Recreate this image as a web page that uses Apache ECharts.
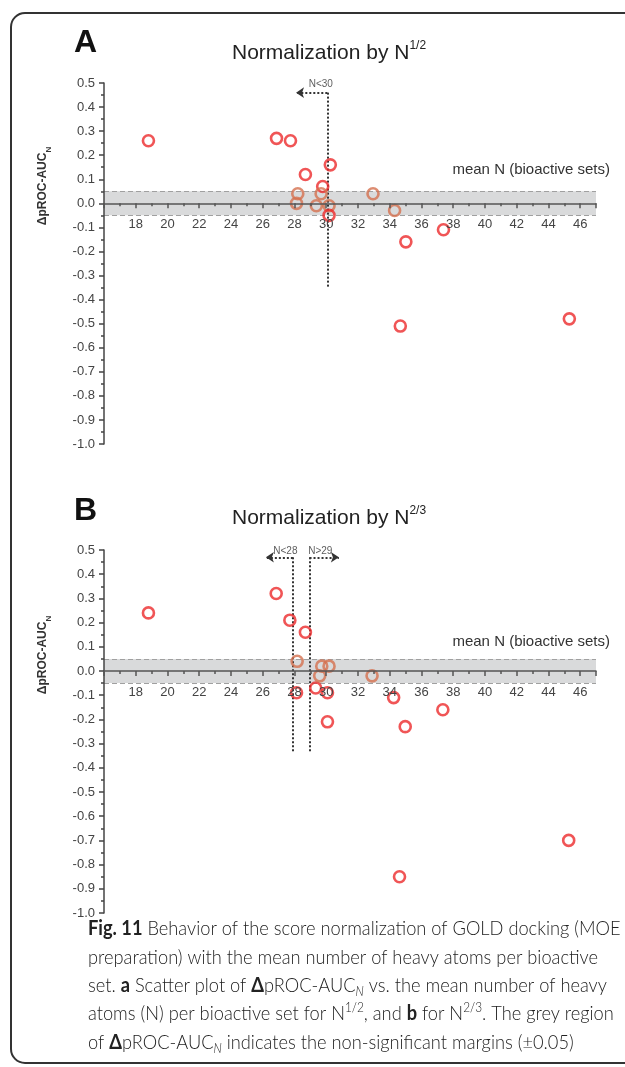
<!DOCTYPE html>
<html>
<head>
<meta charset="utf-8">
<script src="https://cdn.jsdelivr.net/npm/echarts@6/dist/echarts.min.js"></script>
<style>
html,body{margin:0;padding:0;background:#fff;}
#chart{width:625px;height:1067px;}
</style>
</head>
<body>
<div id="chart"></div>
<script>
// ---- data ----
const xA = [18.8, 26.87, 27.75, 28.69, 30.26, 29.78, 28.21, 28.13, 29.38, 29.68, 30.18, 30.18, 32.95, 34.31, 35.02, 37.39, 34.67, 45.32];
const yA = [0.26, 0.27, 0.26, 0.12, 0.16, 0.07, 0.04, 0.00, -0.01, 0.04, -0.01, -0.05, 0.04, -0.03, -0.16, -0.11, -0.51, -0.48];
const xB = [18.8, 26.85, 27.71, 28.69, 28.17, 28.13, 29.34, 29.72, 29.59, 30.18, 30.08, 30.08, 32.89, 34.25, 34.98, 37.35, 34.62, 45.28];
const yB = [0.24, 0.32, 0.21, 0.16, 0.04, -0.09, -0.07, 0.02, -0.02, 0.02, -0.09, -0.21, -0.02, -0.11, -0.23, -0.16, -0.85, -0.70];
const margin = 0.05;
const yMin = -1, yMax = 0.5, xMin = 16, xMax = 47;
// threshold lines: [x, yTop, yBottom, arrowEndX]
const cutA = [[30.07, 0.46, -0.35, 28.1]];
const cutB = [[27.9, 0.47, -0.335, 26.2], [28.95, 0.47, -0.335, 30.8]];
// threshold labels: [x, y, text]
const cutLabelsA = [[29.66, 0.495, 'N<30']];
const cutLabelsB = [[27.43, 0.495, 'N<28'], [29.63, 0.495, 'N>29']];
const titles = ['Normalization by N', 'Normalization by N'];
const titleSup = ['1/2', '2/3'];
const panelLetters = ['A', 'B'];
const capLines = [
  '{b|Fig. 11} Behavior of the score normalization of GOLD docking (MOE',
  'preparation) with the mean number of heavy atoms per bioactive',
  'set. {b|a} Scatter plot of {b|Δ}pROC-AUC{sub|N} vs. the mean number of heavy',
  'atoms (N) per bioactive set for N{sup|1/2}, and {b|b} for N{sup|2/3}. The grey region',
  'of {b|Δ}pROC-AUC{sub|N} indicates the non-significant margins (±0.05)'
];

// ---- styles ----
const RED = '#ec2a2c';
const ORANGE = '#d4714f';
const AX = '#444';
const grids = [
  {left:104, top:83, width:492, height:361},
  {left:104, top:550, width:492, height:363}
];
const labelLift = [0, -3];

function xAxis(gi){
  return {
    type:'value', gridIndex:gi, min:xMin, max:xMax, interval:2, z:10, position:'bottom',
    offset: -grids[gi].height * (0 - yMin) / (yMax - yMin),
    axisLine:{onZero:false, lineStyle:{color:'#555', width:1.5}},
    axisTick:{length:5, lineStyle:{color:'#555', width:1.5}},
    minorTick:{show:true, splitNumber:2, length:3, lineStyle:{color:'#555', width:1.5}},
    splitLine:{show:false},
    axisLabel:{showMinLabel:false, showMaxLabel:false, margin:15, fontSize:13, color:AX, fontFamily:'Liberation Sans'}
  };
}
function yAxis(gi){
  return {
    type:'value', gridIndex:gi, min:yMin, max:yMax, interval:0.1, z:10,
    axisLine:{show:true, lineStyle:{color:'#444', width:1.5}},
    axisTick:{show:true, length:5, lineStyle:{color:'#444', width:1.5}},
    minorTick:{show:true, splitNumber:2, length:3, lineStyle:{color:'#444', width:1.5}},
    splitLine:{show:false},
    axisLabel:{margin:9, fontSize:13, color:AX, fontFamily:'Liberation Sans', formatter:v=>v.toFixed(1)}
  };
}
function panelSeries(gi, xs, ys, cuts, cutLabels){
  const s = [];
  s.push({
    type:'line', xAxisIndex:gi, yAxisIndex:gi, data:[], z:1, silent:true,
    markArea:{silent:true, itemStyle:{color:'#d9dadb'}, data:[[{yAxis:-margin},{yAxis:margin}]]},
    markLine:{silent:true, symbol:['none','none'], label:{show:false},
      lineStyle:{color:'#a0a0a0', type:[5,3], width:1.2}, data:[{yAxis:-margin},{yAxis:margin}]}
  });
  const ml = [];
  cuts.forEach(c=>{
    ml.push([{coord:[c[0], c[1]], symbol:'none'},{coord:[c[0], c[2]], symbol:'none'}]);
    ml.push([{coord:[c[0], c[1]], symbol:'none'},{coord:[c[3], c[1]], symbol:'arrow', symbolSize:8}]);
  });
  s.push({
    type:'line', xAxisIndex:gi, yAxisIndex:gi, data:[], z:3, silent:true,
    markLine:{silent:true, animation:false, label:{show:false},
      lineStyle:{color:'#333', type:[2,2], width:2}, data:ml}
  });
  s.push({
    type:'scatter', xAxisIndex:gi, yAxisIndex:gi, symbolSize:0, z:4, silent:true, clip:false,
    data:cutLabels.map(l=>({value:[l[0], l[1]], name:l[2]})),
    label:{show:true, position:'inside', offset:labelLift, formatter:p=>p.name, fontSize:10, color:'#333', fontFamily:'Liberation Sans'},
    labelLayout:{hideOverlap:false}
  });
  s.push({
    type:'scatter', xAxisIndex:gi, yAxisIndex:gi, z:5, symbol:'circle', symbolSize:11,
    data:xs.map((x,i)=>({value:[x, ys[i]], itemStyle:{color:'rgba(0,0,0,0)', borderColor: Math.abs(ys[i])<margin ? ORANGE : RED, borderWidth:2.6}}))
  });
  return s;
}

const graphic = [
  {type:'rect', shape:{x:11, y:13, width:700, height:1050, r:14}, style:{fill:'none', stroke:'#333', lineWidth:2}, z:0},
];
const letterY = [43, 511];
const titleY = [52, 517];
const nameY = [186, 655];
const meanY = [170, 642];
for(let i=0;i<2;i++){
  graphic.push({type:'text', x:74, y:letterY[i], style:{text:panelLetters[i], fontSize:32, fontWeight:'bold', fontFamily:'Liberation Sans', fill:'#111', verticalAlign:'middle', align:'left'}});
  graphic.push({type:'text', x:232, y:titleY[i], style:{
    text:'{t|'+titles[i]+'}{s|'+titleSup[i]+'}', verticalAlign:'middle', align:'left',
    rich:{t:{fontSize:21, fontFamily:'Liberation Sans', fill:'#222', lineHeight:24, verticalAlign:'bottom'},
          s:{fontSize:12, fontFamily:'Liberation Sans', fill:'#222', lineHeight:24, verticalAlign:'top'}}}});
  graphic.push({type:'text', x:45, y:nameY[i], rotation:Math.PI/2, style:{
    text:'{t|ΔpROC-AUC}{s|N}', align:'center', verticalAlign:'middle',
    rich:{t:{fontSize:12, fontWeight:'bold', fontFamily:'Liberation Sans', fill:'#333', lineHeight:16, verticalAlign:'top'},
          s:{fontSize:8, fontWeight:'bold', fontFamily:'Liberation Sans', fill:'#333', lineHeight:16, verticalAlign:'bottom'}}}});
  graphic.push({type:'text', x:610, y:meanY[i], style:{text:'mean N (bioactive sets)', fontSize:15, fontFamily:'Liberation Sans', fill:'#333', align:'right', verticalAlign:'middle'}});
}

// caption: fit the first line to its width in the reference
const capFont = 'Lato';
const capSize = 20;
const cv = document.createElement('canvas').getContext('2d');
cv.font = '300 ' + capSize + 'px ' + capFont;
const plain1 = capLines[0].replace(/\{\w+\|([^}]*)\}/g, '$1');
const capScale = Math.min(1.2, 532 / cv.measureText(plain1).width);
capLines.forEach((t,i)=>{
  graphic.push({type:'text', x:88, y:929 + i*28.3, scaleX:capScale, style:{
    text:t, fontSize:capSize, fontWeight:300, fontFamily:capFont, fill:'#222', verticalAlign:'middle', align:'left',
    rich:{b:{fontSize:capSize, fontWeight:'bold', fontFamily:capFont, fill:'#222', lineHeight:26},
          sub:{fontSize:13, fontStyle:'italic', fontWeight:300, fontFamily:capFont, fill:'#222', lineHeight:26, verticalAlign:'bottom'},
          sup:{fontSize:13, fontWeight:300, fontFamily:capFont, fill:'#222', lineHeight:26, verticalAlign:'top'}}
  }});
});

const option = {
  animation:false,
  backgroundColor:'#fff',
  grid:grids,
  xAxis:[xAxis(0), xAxis(1)],
  yAxis:[yAxis(0), yAxis(1)],
  series:[...panelSeries(0, xA, yA, cutA, cutLabelsA), ...panelSeries(1, xB, yB, cutB, cutLabelsB)],
  graphic:graphic
};
const chart = echarts.init(document.getElementById('chart'), null, {renderer:'canvas'});
chart.setOption(option);
</script>
</body>
</html>
